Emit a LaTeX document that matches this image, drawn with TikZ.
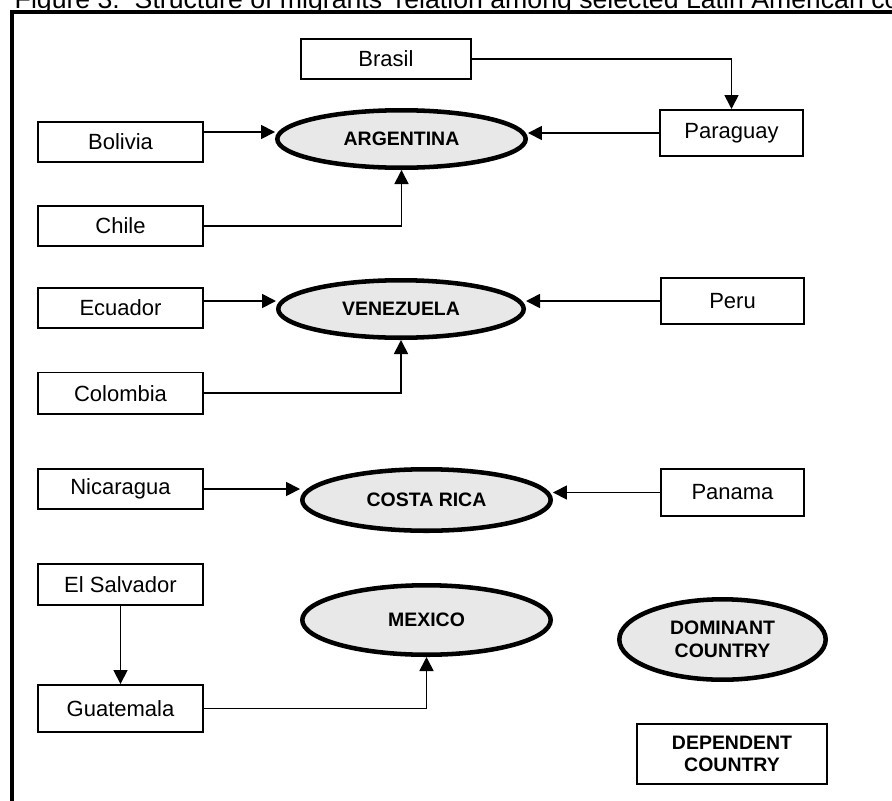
\documentclass[tikz,border=0pt]{standalone}
\usepackage{fontspec}
\setmainfont{Liberation Sans}
\usetikzlibrary{positioning,shapes.geometric,arrows.meta}
\definecolor{domfill}{HTML}{E8E8E8}
\newcommand{\namefont}{\fontsize{16.5}{19}\selectfont}
\newcommand{\domfont}{\fontsize{14.6}{17}\selectfont\bfseries}

\begin{document}
\begin{tikzpicture}[x=0.75pt,y=-0.75pt,
    country/.style={draw,line width=1.3pt,minimum width=124pt,minimum height=30.2pt,inner sep=0pt,font=\namefont},
    eastcountry/.style={country,minimum width=107.5pt,minimum height=34.7pt},
    dominant/.style={ellipse,draw,line width=3.4pt,fill=domfill,inner sep=0pt,font=\domfont,align=center},
    arr/.style={-{Triangle[length=10.5pt,width=10.5pt]},line width=1.3pt}]
    \useasboundingbox (0,0) rectangle (892,800);
    \clip (0,0) rectangle (892,800);

    \node[anchor=base west,font=\fontsize{20}{24}\selectfont] (title) at (10,8) {Figure 3.\ \ Structure of migrants' relation among selected Latin American countries};
    \draw[line width=3pt] (12,12) rectangle (905,815);

    % Dominant countries
    \node[dominant,minimum width=186.3pt,minimum height=43.1pt] (argentina) at (401.5,139) {ARGENTINA};
    \node[dominant,minimum width=184.1pt,minimum height=43.1pt] (venezuela) at (401,309) {VENEZUELA};
    \node[dominant,minimum width=186.3pt,minimum height=46.1pt] (costarica) at (426.5,500) {COSTA RICA};
    \node[dominant,minimum width=186.3pt,minimum height=52.1pt] (mexico) at (426.5,620) {MEXICO};

    % Dependent countries
    \node[country,minimum width=127.7pt] (brasil) at (386,59) {Brasil};
    \node[eastcountry] (paraguay) at (731.5,133) {Paraguay};
    \node[country] (bolivia) at (120.5,142) {Bolivia};
    \node[country] (chile) [below=31.5pt of bolivia] {Chile};

    \node[country] (ecuador) at (120.5,308) {Ecuador};
    \node[eastcountry] (peru) at (732.5,301) {Peru};
    \node[country,minimum height=31pt] (colombia) [below=32pt of ecuador] {Colombia};

    \node[country] (nicaragua) at (120.5,489) {Nicaragua\hspace{20pt}};
    \node[eastcountry,minimum height=35.5pt] (panama) at (732.5,492.5) {Panama};

    \node[country,minimum height=31pt] (elsalvador) at (120.5,584.5) {El Salvador};
    \node[country,minimum height=35.5pt] (guatemala) [below=58.5pt of elsalvador] {Guatemala\hspace{16pt}};

    % Legend
    \node[dominant,minimum width=154.8pt,minimum height=60.3pt] (legend_dom) at (722.5,639.5) {DOMINANT\\COUNTRY};
    \node[country,minimum width=142.7pt,minimum height=45.2pt,font=\domfont,align=center] (legend_dep) at (732,754) {DEPENDENT\\COUNTRY};

    \draw[arr] (brasil.east) -| (paraguay.north);
    \draw[arr] ([yshift=7.5pt]bolivia.east) -- ([yshift=7.5pt]bolivia.east -| argentina.west);
    \draw[arr] (paraguay.west) -- (paraguay.west -| argentina.east);
    \draw[arr] (chile.east) -| (argentina.south);

    \draw[arr] ([yshift=5.25pt]ecuador.east) -- ([yshift=5.25pt]ecuador.east -| venezuela.west);
    \draw[arr] (peru.west) -- (peru.west -| venezuela.east);
    \draw[arr] (colombia.east) -| (venezuela.south);

    \draw[arr] (nicaragua.east) -- (nicaragua.east -| costarica.west);
    \draw[arr] (panama.west) -- (panama.west -| costarica.east);

    \draw[arr] (elsalvador) -- (guatemala);
    \draw[arr] (guatemala.east) -| (mexico.south);
\end{tikzpicture}
\end{document}
